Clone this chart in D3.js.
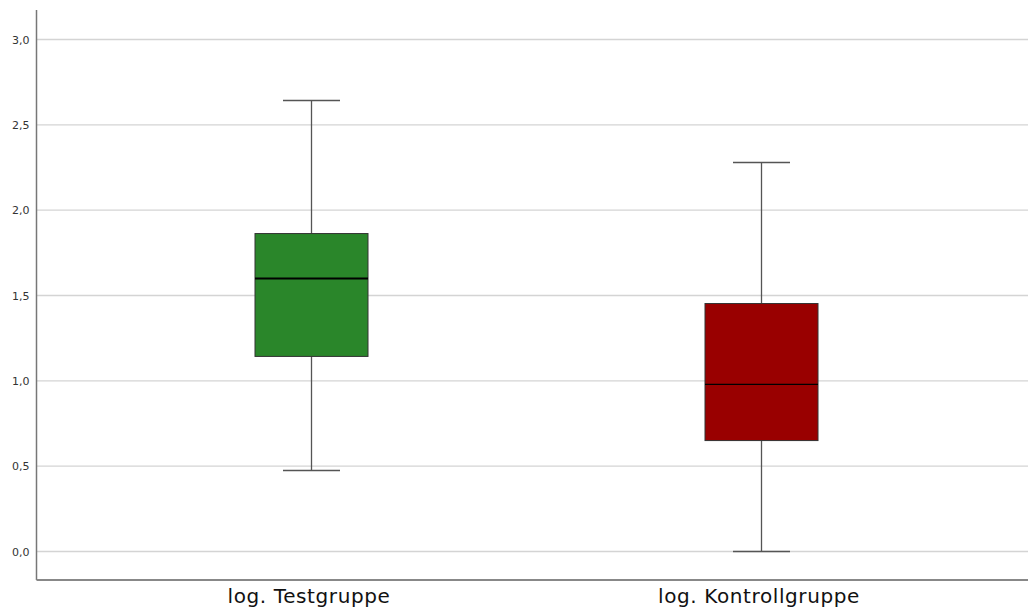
<!DOCTYPE html>
<html>
<head>
<meta charset="utf-8">
<script src="https://cdn.jsdelivr.net/npm/d3@7"></script>
<style>
  html, body { margin: 0; padding: 0; background: #fff; }
  svg { display: block; }
</style>
</head>
<body>
<svg id="chart" width="1028" height="612"></svg>
<script>
// Box plot summaries (log-transformed values)
const groups = ["log. Testgruppe", "log. Kontrollgruppe"];
const mins    = [0.475, 0.0];
const q1s     = [1.143, 0.650];
const medians = [1.600, 0.979];
const q3s     = [1.863, 1.453];
const maxs    = [2.643, 2.279];
const fills   = ["#2a862a", "#990000"];
const medianWidths = [2, 1.2];
const yTicks = [0, 0.5, 1, 1.5, 2, 2.5, 3];

(function () {
  const svg = d3.select("#chart");
  const plotLeft = 36.5, plotRight = 1028, plotTop = 10, plotBottom = 580;

  const y = d3.scaleLinear().domain([0, 3]).range([551.5, 39.5]);
  const x = d3.scaleBand().domain(groups).range([87, 987]).paddingInner(0).paddingOuter(0);
  const boxW = 113, capW = 57;
  const fmt = v => d3.format(".1f")(v).replace(".", ",");

  // horizontal gridlines
  svg.append("g").selectAll("line").data(yTicks).join("line")
    .attr("x1", plotLeft).attr("x2", plotRight)
    .attr("y1", d => y(d)).attr("y2", d => y(d))
    .attr("stroke", "#d4d4d4").attr("stroke-width", 1.3);

  // y axis labels
  const yAxis = d3.axisLeft(y).tickValues(yTicks).tickFormat(fmt).tickSize(0).tickPadding(7);
  const gy = svg.append("g").attr("transform", `translate(${plotLeft},0)`).call(yAxis);
  gy.select(".domain").remove();
  gy.selectAll("text").attr("font-family", "'DejaVu Sans', sans-serif")
    .attr("font-size", 11).attr("fill", "#333");

  // x axis labels
  const xAxis = d3.axisBottom(x).tickSize(0).tickPadding(9);
  const gx = svg.append("g").attr("transform", `translate(0,${plotBottom})`).call(xAxis);
  gx.select(".domain").remove();
  gx.selectAll("text").attr("font-family", "'DejaVu Sans', sans-serif")
    .attr("font-size", 20).attr("letter-spacing", "0.6px").attr("fill", "#111")
    .attr("x", -3);

  // axis lines
  svg.append("line").attr("x1", plotLeft).attr("x2", plotLeft).attr("y1", plotTop).attr("y2", plotBottom)
    .attr("stroke", "#777").attr("stroke-width", 1.5);
  svg.append("line").attr("x1", plotLeft).attr("x2", plotRight).attr("y1", plotBottom).attr("y2", plotBottom)
    .attr("stroke", "#888").attr("stroke-width", 2);

  // boxes
  const g = svg.append("g").selectAll("g").data(groups).join("g")
    .attr("transform", d => `translate(${x(d) + x.bandwidth() / 2 - 0.5},0)`);

  const wc = "#555";
  g.append("line").attr("x1", 0).attr("x2", 0)
    .attr("y1", (d, i) => y(maxs[i])).attr("y2", (d, i) => y(q3s[i]))
    .attr("stroke", wc).attr("stroke-width", 1.3);
  g.append("line").attr("x1", 0).attr("x2", 0)
    .attr("y1", (d, i) => y(q1s[i])).attr("y2", (d, i) => y(mins[i]))
    .attr("stroke", wc).attr("stroke-width", 1.3);
  g.append("line").attr("x1", -capW / 2).attr("x2", capW / 2)
    .attr("y1", (d, i) => y(maxs[i])).attr("y2", (d, i) => y(maxs[i]))
    .attr("stroke", wc).attr("stroke-width", 1.5);
  g.append("line").attr("x1", -capW / 2).attr("x2", capW / 2)
    .attr("y1", (d, i) => y(mins[i])).attr("y2", (d, i) => y(mins[i]))
    .attr("stroke", wc).attr("stroke-width", 1.5);
  g.append("rect").attr("x", -boxW / 2).attr("width", boxW)
    .attr("y", (d, i) => y(q3s[i])).attr("height", (d, i) => y(q1s[i]) - y(q3s[i]))
    .attr("fill", (d, i) => fills[i]).attr("stroke", "#333").attr("stroke-width", 1);
  g.append("line").attr("x1", -boxW / 2).attr("x2", boxW / 2)
    .attr("y1", (d, i) => y(medians[i])).attr("y2", (d, i) => y(medians[i]))
    .attr("stroke", "#000").attr("stroke-width", (d, i) => medianWidths[i]);
})();
</script>
</body>
</html>
